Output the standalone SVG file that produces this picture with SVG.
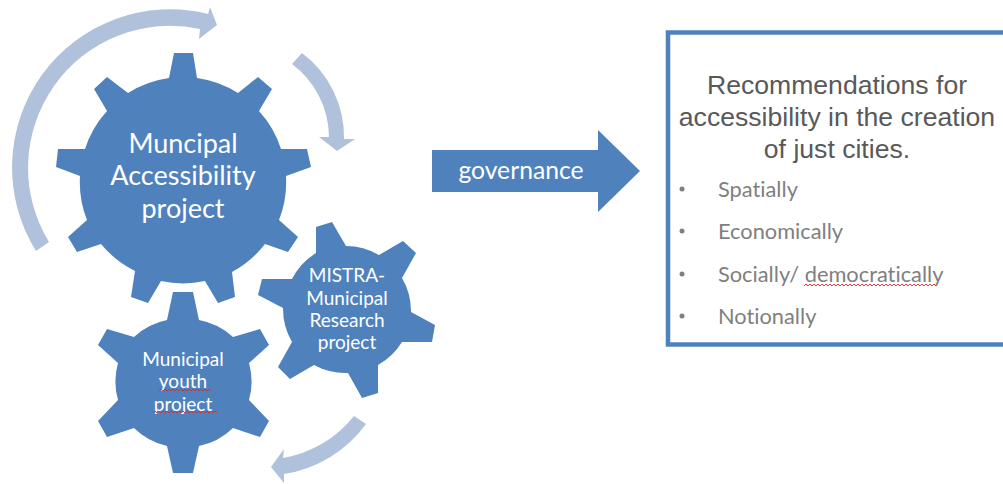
<svg xmlns="http://www.w3.org/2000/svg" width="1003" height="484" viewBox="0 0 1003 484">
<style>
.gear{fill:#4F81BD}
.cyc{fill:#B0C1DC}
.g{font-family:"Lato","Carlito","Open Sans",sans-serif;fill:#fff;text-anchor:middle;font-variant-ligatures:none}
.big{font-size:27px}
.mid{font-size:19px}
.gov{font-size:24.7px}
.t{font-family:"Liberation Sans",Arial,sans-serif;font-size:26.6px;fill:#595959;text-anchor:middle}
.li{font-family:"Lato","Carlito","Open Sans",sans-serif;font-size:21.8px;fill:#7F7F7F;font-variant-ligatures:none}
.b{fill:#7F7F7F}
.sq{fill:none;stroke:#E0262B;stroke-width:0.9}
</style>
<rect width="1003" height="484" fill="#fff"/>
<g id="connectors">
<path class="cyc" d="M36,251 A158,158 0 0 1 208,14 L210,7 L217,25 L199,39 L200,29 A142,142 0 0 0 49,242 Z"/>
<path class="cyc" d="M302,53 A105,105 0 0 1 344,139 L355,139 L337,151 L319,137 L329,137 A92,92 0 0 0 292,64 Z"/>
<path class="cyc" d="M354,416 L366,424 A125,125 0 0 1 284,474 L284,483 L271,467 L284,449 L283,458 A115,115 0 0 0 354,416 Z"/>
</g>
<g id="gear-muncipal">
<path class="gear" d="M174,53 L193,53 L197,78 A103,103 0 0 1 238,93 L258,77 L272,89 L259,111 A103,103 0 0 1 281,149 L307,149 L311,167 L286,176 A103,103 0 0 1 279,220 L298,237 L288,252 L265,244 A103,103 0 0 1 232,272 L235,297 L218,303 L205,281 A103,103 0 0 1 161,281 L148,303 L131,297 L135,271 A103,103 0 0 1 101,244 L77,252 L68,237 L87,220 A103,103 0 0 1 80,176 L56,167 L58,149 L85,149 A103,103 0 0 1 107,111 L94,89 L107,77 L128,93 A103,103 0 0 1 169,78 Z"/>
<text class="g big" x="183" y="153">Muncipal</text>
<text class="g big" x="183" y="185">Accessibility</text>
<text class="g big" x="183" y="218">project</text>
</g>
<g id="gear-mistra">
<path class="gear" d="M316,227 L332,222 L346,246 A66,66 0 0 1 379,255 L403,241 L416,253 L402,278 A66,66 0 0 1 411,312 L435,325 L432,342 L402,342 A66,66 0 0 1 378,365 L378,393 L362,398 L348,373 A66,66 0 0 1 314,365 L290,379 L278,367 L292,342 A66,66 0 0 1 283,308 L258,295 L262,279 L292,279 A66,66 0 0 1 316,253 Z"/>
<text class="g mid" x="347" y="282">MISTRA-</text>
<text class="g mid" x="347" y="305">Municipal</text>
<text class="g mid" x="347" y="327">Research</text>
<text class="g mid" x="347" y="349">project</text>
</g>
<g id="gear-youth">
<path class="gear" d="M173,292 L193,292 L199,320 A68,68 0 0 1 233,337 L260,329 L269,345 L249,363 A68,68 0 0 1 249,400 L269,421 L260,437 L233,428 A68,68 0 0 1 199,446 L193,473 L173,473 L167,446 A68,68 0 0 1 134,428 L107,437 L98,421 L118,400 A68,68 0 0 1 118,363 L98,345 L107,329 L134,337 A68,68 0 0 1 167,320 Z"/>
<text class="g mid" x="183" y="366">Municipal</text>
<text class="g mid" x="183" y="388">youth</text>
<text class="g mid" x="183" y="411">project</text>
<path class="sq" d="M159,391 l2,-2 2,2 2,-2 2,2 2,-2 2,2 2,-2 2,2 2,-2 2,2 2,-2 2,2 2,-2 2,2 2,-2 2,2 2,-2 2,2 2,-2 2,2 2,-2 2,2 2,-2 2,2 2,-2 2,2"/>
<path class="sq" d="M153,413 l2,-2 2,2 2,-2 2,2 2,-2 2,2 2,-2 2,2 2,-2 2,2 2,-2 2,2 2,-2 2,2 2,-2 2,2 2,-2 2,2 2,-2 2,2 2,-2 2,2 2,-2 2,2 2,-2 2,2 2,-2 2,2 2,-2 2,2 2,-2 2,2"/>
</g>
<g id="governance">
<path class="gear" d="M432,150 L598,150 L598,130 L640,171 L598,212 L598,192 L432,192 Z"/>
<text class="g gov" x="521" y="179">governance</text>
</g>
<g id="recommendations">
<rect x="668" y="32.5" width="400" height="312" fill="#fff" stroke="#4F81BD" stroke-width="4.5"/>
<text class="t" x="837" y="94">Recommendations for</text>
<text class="t" x="837" y="126">accessibility in the creation</text>
<text class="t" x="837" y="158">of just cities.</text>
<circle class="b" cx="682" cy="189" r="2.5"/>
<circle class="b" cx="682" cy="231" r="2.5"/>
<circle class="b" cx="682" cy="274" r="2.5"/>
<circle class="b" cx="682" cy="316" r="2.5"/>
<text class="li" x="718" y="197">Spatially</text>
<text class="li" x="718" y="239">Economically</text>
<text class="li" x="718" y="282">Socially/ democratically</text>
<text class="li" x="718" y="324">Notionally</text>
<path class="sq" d="M804,286 l2,-2 2,2 2,-2 2,2 2,-2 2,2 2,-2 2,2 2,-2 2,2 2,-2 2,2 2,-2 2,2 2,-2 2,2 2,-2 2,2 2,-2 2,2 2,-2 2,2 2,-2 2,2 2,-2 2,2 2,-2 2,2 2,-2 2,2 2,-2 2,2 2,-2 2,2 2,-2 2,2 2,-2 2,2 2,-2 2,2 2,-2 2,2 2,-2 2,2 2,-2 2,2 2,-2 2,2 2,-2 2,2 2,-2 2,2 2,-2 2,2 2,-2 2,2 2,-2 2,2 2,-2 2,2 2,-2 2,2 2,-2 2,2 2,-2 2,2"/>
</g>
</svg>
